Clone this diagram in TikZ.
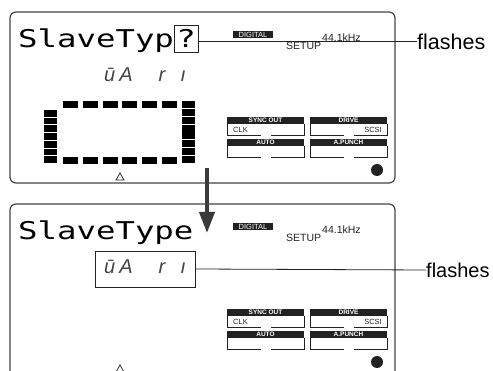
\documentclass[tikz,border=0pt]{standalone}
\usepackage{fontspec}
\setmainfont{Liberation Sans}
\newfontfamily\lcdfont[FakeStretch=1.32]{DejaVu Sans Mono}
\newfontfamily\segfont{Liberation Sans}
\usetikzlibrary{arrows.meta}
\definecolor{ink}{HTML}{222222}
\definecolor{frame}{HTML}{444444}
\definecolor{arrowc}{HTML}{3A3A3A}

\newcommand\btn[4]{%
  \node[btnhead] (#1) at (#2+38.5,#3+3.75) {#4};
  \draw[btnline] (#2+34,#3+18.5) -| (#2,#3+7.5);
  \draw[btnline] (#2+44,#3+18.5) -| (#2+77,#3+7.5);
}
\newcommand\panelbits[1]{%
  \node[digital] (#1dig) at (253,34.5) {DIGITAL};
  \node[small10, anchor=base west] (#1khz) at (322,41.5) {44.1kHz};
  \node[small10, anchor=base west] (#1setup) at (286,50) {SETUP};
  \btn{#1so}{227}{117}{SYNC OUT}
  \btn{#1dr}{310}{117}{DRIVE}
  \btn{#1au}{227}{139}{AUTO}
  \btn{#1ap}{310}{139}{A.PUNCH}
  \node[sublabel, anchor=west] (#1clk) at (233,129.5) {CLK};
  \node[sublabel, anchor=east] (#1scsi) at (382,129.5) {SCSI};
  \fill[ink] (377,170) circle (6);
}

\begin{document}
\begin{tikzpicture}[x=1pt,y=-1pt,
  lcd/.style={font=\lcdfont\fontsize{24.5}{24.5}\selectfont, inner sep=0pt, text=black},
  segtext/.style={font=\segfont\itshape\fontsize{20}{20}\selectfont, inner sep=0pt, text=ink!85, anchor=base west},
  digital/.style={fill=ink, text=white, font=\fontsize{7.5}{8}\selectfont, minimum width=40, minimum height=7.5, inner sep=0pt},
  small10/.style={font=\fontsize{10.5}{11}\selectfont, inner sep=0pt, text=ink},
  sublabel/.style={font=\fontsize{7.5}{8}\selectfont, inner sep=0pt, text=ink},
  btnhead/.style={fill=ink, text=white, font=\bfseries\fontsize{6.5}{7}\selectfont, minimum width=77, minimum height=7.5, inner sep=0pt},
  btnline/.style={ink, line width=0.9},
  panel/.style={frame, line width=1.2, rounded corners=6},
  callout/.style={ink, line width=0.8},
  flash/.style={inner sep=0pt, anchor=west, text=black},
  bar/.style={fill=black}]
\useasboundingbox (0,0) rectangle (493,371);
\clip (0,0) rectangle (493,371);

% ---------- top panel ----------
\draw[panel] (10,12) rectangle (395,183);
\node[lcd, anchor=base west] (t1) at (18,48) {SlaveTyp};
\node[lcd, draw=ink, line width=0.9, minimum width=24, minimum height=27] (q) at (186,38.5) {?};
\node[segtext] (seg1) at (104,82) {ū\hspace{4pt}A\hspace{26pt}r\hspace{15pt}ı};
\panelbits{t}
\node[flash, font=\fontsize{21.5}{22}\selectfont] (fl1) at (417,41.5) {flashes};
\draw[callout] ([yshift=-3pt]q.east) -- (fl1.west);

% bar graph frame
\foreach \x in {63,82.8,102.6,122.4,142.2,162} {
  \fill[bar] (\x,101) rectangle (\x+15,108.5);
  \fill[bar] (\x,157) rectangle (\x+15,164);
}
\foreach \i in {0,...,6} \fill[bar] (44,110+\i*7.714) rectangle (57,110+\i*7.714+6.7);
\foreach \i in {0,...,7} \fill[bar] (182,101+\i*7.875) rectangle (195,101+\i*7.875+6.9);
\draw[ink, line width=0.8] (116,180) -- (124,180) -- (120,173) -- cycle;

% ---------- arrow ----------
\coordinate (arrS) at (207,168);
\coordinate (arrE) at (207,233);
\draw[arrowc, line width=4, -{Triangle[width=15pt,length=21pt]}] (arrS) -- (arrE);

% ---------- bottom panel ----------
\draw[panel] (10,380) -- (10,204) -- (395,204) -- (395,380);
\node[lcd, anchor=base west] (t2) at (18,240) {SlaveType};
\node[segtext] (seg2) at (104,274) {ū\hspace{4pt}A\hspace{26pt}r\hspace{15pt}ı};
\node[draw=ink, line width=0.9, minimum width=100, minimum height=36, inner sep=0pt] (box2) at (145,269) {};
\begin{scope}[yshift=-192pt]
\panelbits{b}
\draw[ink, line width=0.8] (116,180) -- (124,180) -- (120,173) -- cycle;
\end{scope}
\node[flash, font=\fontsize{20}{21}\selectfont] (fl2) at (426,270) {flashes};
\draw[callout] (box2.east) -- (fl2.west);
\end{tikzpicture}
\end{document}
